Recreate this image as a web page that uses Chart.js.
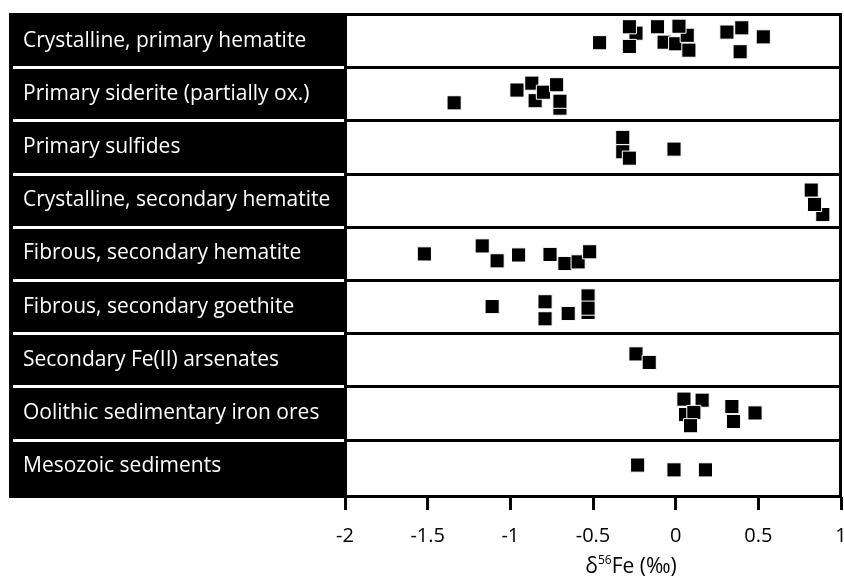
<!DOCTYPE html>
<html>
<head>
<meta charset="utf-8">
<title>δ56Fe by material type</title>
<script src="https://cdn.jsdelivr.net/npm/chart.js@4/dist/chart.umd.min.js"></script>
<style>
  html, body { margin: 0; padding: 0; background: #ffffff; }
  #wrap { width: 844px; height: 577px; }
</style>
</head>
<body>
<div id="wrap"><canvas id="chart" width="844" height="577"></canvas></div>
<script>
// Material groups, listed top to bottom
const categories = [
  'Crystalline, primary hematite',
  'Primary siderite (partially ox.)',
  'Primary sulfides',
  'Crystalline, secondary hematite',
  'Fibrous, secondary hematite',
  'Fibrous, secondary goethite',
  'Secondary Fe(II) arsenates',
  'Oolithic sedimentary iron ores',
  'Mesozoic sediments'
];

// Each sample: [δ56Fe in ‰, vertical spread within its row (0 = top, 1 = bottom)]
const crystallinePrimaryHematite = [
  [-0.24, 0.36], [-0.28, 0.24], [-0.46, 0.54], [-0.28, 0.61], [-0.11, 0.24],
  [-0.07, 0.53], [0.00, 0.56], [0.07, 0.40], [0.02, 0.23], [0.08, 0.68],
  [0.31, 0.34], [0.40, 0.26], [0.39, 0.71], [0.53, 0.43]
];
const primarySiderite = [
  [-1.34, 0.67], [-0.96, 0.43], [-0.87, 0.30], [-0.85, 0.63], [-0.80, 0.47],
  [-0.72, 0.33], [-0.70, 0.77], [-0.70, 0.64]
];
const primarySulfides = [
  [-0.32, 0.32], [-0.32, 0.59], [-0.28, 0.71], [-0.01, 0.54]
];
const crystallineSecondaryHematite = [
  [0.82, 0.31], [0.89, 0.77], [0.84, 0.58]
];
const fibrousSecondaryHematite = [
  [-1.52, 0.51], [-1.17, 0.36], [-1.08, 0.64], [-0.95, 0.53], [-0.76, 0.52],
  [-0.67, 0.69], [-0.59, 0.66], [-0.52, 0.47]
];
const fibrousSecondaryGoethite = [
  [-1.11, 0.50], [-0.79, 0.41], [-0.79, 0.73], [-0.65, 0.63], [-0.53, 0.30],
  [-0.53, 0.61], [-0.53, 0.53]
];
const secondaryArsenates = [
  [-0.24, 0.39], [-0.16, 0.55]
];
const oolithicIronOres = [
  [0.06, 0.53], [0.05, 0.24], [0.16, 0.26], [0.11, 0.49], [0.09, 0.74],
  [0.34, 0.38], [0.35, 0.66], [0.48, 0.50]
];
const mesozoicSediments = [
  [-0.23, 0.48], [-0.01, 0.57], [0.18, 0.57]
];

const groups = [
  crystallinePrimaryHematite, primarySiderite, primarySulfides,
  crystallineSecondaryHematite, fibrousSecondaryHematite, fibrousSecondaryGoethite,
  secondaryArsenates, oolithicIronOres, mesozoicSediments
];

const xTicks = [-2, -1.5, -1, -0.5, 0, 0.5, 1];
const xTitle = { delta: 'δ', mass: '56', rest: 'Fe (‰)' };

const LABEL_FONT = '21px "Open Sans", sans-serif';
const ROW_SPAN = 9.08; // the last row runs slightly taller

const datasets = groups.map((g, row) => ({
  label: categories[row],
  data: g.map(([v, lane]) => ({ x: v, y: row + lane })),
  pointStyle: 'rect',
  pointRadius: 10,
  pointHoverRadius: 10,
  backgroundColor: '#000000',
  borderColor: '#ffffff',
  borderWidth: 1,
  showLine: false
}));

// Black label panel on the left, row dividers and frame of the plot
const panelPlugin = {
  id: 'panel',
  beforeDraw(chart) {
    const { ctx, chartArea: a, scales } = chart;
    const y = scales.y;
    ctx.save();
    ctx.fillStyle = '#ffffff';
    ctx.fillRect(0, 0, chart.width, chart.height);
    ctx.fillStyle = '#000000';
    ctx.fillRect(9, a.top - 1, a.left - 9, a.bottom - a.top + 2);
    ctx.strokeStyle = '#ffffff';
    ctx.lineWidth = 3;
    for (let i = 1; i < categories.length; i++) {
      const py = Math.round(y.getPixelForValue(i)) + 0.5;
      ctx.beginPath();
      ctx.moveTo(13, py);
      ctx.lineTo(a.left, py);
      ctx.stroke();
    }
    ctx.fillStyle = '#ffffff';
    ctx.font = LABEL_FONT;
    ctx.textBaseline = 'middle';
    ctx.textAlign = 'left';
    categories.forEach((c, i) => {
      const top = y.getPixelForValue(i);
      const h = y.getPixelForValue(i + 1) - top;
      ctx.fillText(c, 23, top + h / 2);
    });
    ctx.restore();
  },
  beforeDatasetsDraw(chart) {
    const { ctx, chartArea: a, scales } = chart;
    const y = scales.y;
    ctx.save();
    ctx.strokeStyle = '#000000';
    ctx.lineWidth = 3;
    for (let i = 1; i < categories.length; i++) {
      const py = Math.round(y.getPixelForValue(i)) + 0.5;
      ctx.beginPath();
      ctx.moveTo(a.left, py);
      ctx.lineTo(a.right, py);
      ctx.stroke();
    }
    ctx.restore();
  },
  afterDatasetsDraw(chart) {
    const { ctx, chartArea: a } = chart;
    ctx.save();
    ctx.strokeStyle = '#000000';
    ctx.lineWidth = 3;
    ctx.strokeRect(a.left + 0.5, a.top + 0.5, a.right - a.left - 1, a.bottom - a.top - 1);
    // axis title with superscript mass number
    const big = '21px "Open Sans", sans-serif';
    const small = '12px "Open Sans", sans-serif';
    ctx.fillStyle = '#000000';
    ctx.textBaseline = 'alphabetic';
    ctx.textAlign = 'left';
    ctx.font = big;
    const w1 = ctx.measureText(xTitle.delta).width;
    const w3 = ctx.measureText(xTitle.rest).width;
    ctx.font = small;
    const w2 = ctx.measureText(xTitle.mass).width;
    const total = w1 + w2 + w3;
    let x = 631 - total / 2;
    const base = 573;
    ctx.font = big;
    ctx.fillText(xTitle.delta, x, base);
    x += w1;
    ctx.font = small;
    ctx.fillText(xTitle.mass, x, base - 9);
    x += w2;
    ctx.font = big;
    ctx.fillText(xTitle.rest, x, base);
    ctx.restore();
  }
};

new Chart(document.getElementById('chart'), {
  type: 'scatter',
  data: { datasets },
  options: {
    responsive: false,
    animation: false,
    devicePixelRatio: 1,
    layout: { autoPadding: false, padding: { left: 345, right: 3, top: 14, bottom: 0 } },
    plugins: {
      legend: { display: false },
      tooltip: { enabled: false },
      title: { display: false }
    },
    scales: {
      x: {
        type: 'linear',
        min: -2,
        max: 1,
        afterBuildTicks(scale) { scale.ticks = xTicks.map(v => ({ value: v })); },
        afterFit(scale) {
          scale.height = 80;
          scale.paddingLeft = 0;
          scale.paddingRight = 0;
        },
        border: { display: false },
        grid: {
          drawOnChartArea: false,
          drawTicks: true,
          tickLength: 13,
          tickWidth: 3,
          tickColor: '#000000'
        },
        ticks: {
          color: '#000000',
          font: { family: '"Open Sans", sans-serif', size: 20 },
          padding: 14,
          maxRotation: 0,
          callback: v => String(v)
        }
      },
      y: {
        type: 'linear',
        reverse: true,
        min: 0,
        max: ROW_SPAN,
        display: false
      }
    }
  },
  plugins: [panelPlugin]
});
</script>
</body>
</html>
